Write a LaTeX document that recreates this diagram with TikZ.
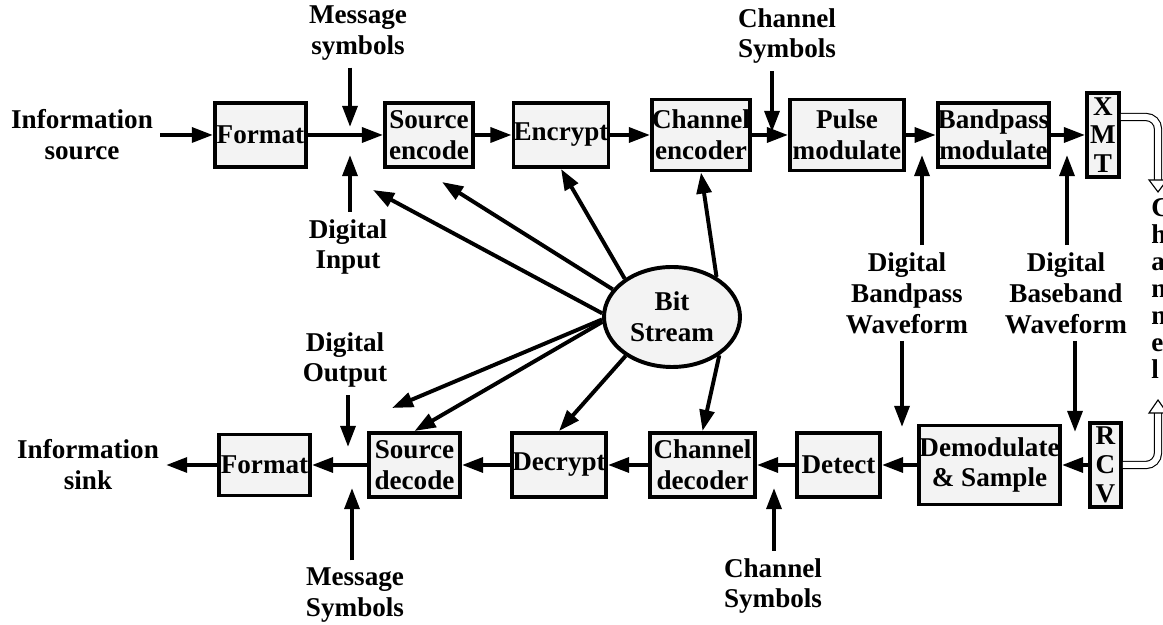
\documentclass[tikz,border=0pt]{standalone}
\usepackage{fontspec}
\setmainfont{Liberation Serif}
\usetikzlibrary{arrows.meta,shapes.geometric}
\definecolor{blkfill}{HTML}{F3F3F3}

\begin{document}
\begin{tikzpicture}[
    font=\fontsize{19.3}{22}\selectfont\bfseries,
    blk/.style={draw, line width=2.8pt, fill=blkfill, inner sep=0pt, align=center},
    tall/.style={blk, font=\fontsize{19.3}{20.5}\selectfont\bfseries},
    lbl/.style={align=center, inner sep=5pt},
    arr/.style={line width=2.8pt, -{Triangle[length=15pt,width=10.5pt]}},
    hollow/.style={double, double distance=0.15cm, line width=0.8pt, rounded corners=0.3cm}
]
    \useasboundingbox (0,0) rectangle (29.075,15.625);

    % Передающая цепочка
    \node[blk, minimum width=2.275cm, minimum height=1.6cm] (fmtA) at (6.51,12.25) {Format};
    \node[blk, minimum width=2.2cm, minimum height=1.6cm] (srcenc) at (10.725,12.25) {Source\\encode};
    \node[blk, minimum width=2.35cm, minimum height=1.6cm] (encr) at (14.025,12.25) {Encrypt};
    \node[blk, minimum width=2.35cm, minimum height=1.775cm] (chenc) at (17.525,12.25) {Channel\\encoder};
    \node[blk, minimum width=2.85cm, minimum height=1.775cm] (pulse) at (21.175,12.25) {Pulse\\modulate};
    \node[blk, minimum width=2.725cm, minimum height=1.6cm] (bpmod) at (24.8375,12.25) {Bandpass\\modulate};
    \node[tall, minimum width=0.8cm, minimum height=2.1cm] (xmt) at (27.575,12.25) {X\\M\\T};

    % Приёмная цепочка
    \node[blk, minimum width=2.275cm, minimum height=1.525cm] (fmtB) at (6.6125,4) {Format};
    \node[blk, minimum width=2.275cm, minimum height=1.6cm] (srcdec) at (10.3625,4) {Source\\decode};
    \node[blk, minimum width=2.35cm, minimum height=1.6cm] (decr) at (13.975,4) {Decrypt};
    \node[blk, minimum width=2.625cm, minimum height=1.6cm] (chdec) at (17.5625,4) {Channel\\decoder};
    \node[blk, minimum width=2.075cm, minimum height=1.6cm] (detect) at (20.9625,4) {Detect};
    \node[blk, minimum width=3.525cm, minimum height=1.975cm] (demod) at (24.7375,4) {Demodulate\\\& Sample};
    \node[tall, minimum width=0.775cm, minimum height=2.1cm] (rcv) at (27.6375,4) {R\\C\\V};

    % Битовый поток в центре
    \node[blk, ellipse, minimum width=3.4cm, minimum height=2.5cm] (bit) at (16.8,7.7) {Bit\\Stream};

    % Подписи
    \node[lbl] (src) at (2.05,12.25) {Information\\source};
    \node[lbl] (sink) at (2.2,4) {Information\\sink};
    \node[lbl] (msgA) at (8.95,14.8) {Message\\symbols};
    \node[lbl] (digin) at (8.7,9.45) {Digital\\Input};
    \node[lbl] (chsymA) at (19.675,14.725) {Channel\\Symbols};
    \node[lbl] (bpwave) at (22.675,8.3) {Digital\\Bandpass\\Waveform};
    \node[lbl] (bbwave) at (26.65,8.3) {Digital\\Baseband\\Waveform};
    \node[lbl] (digout) at (8.625,6.625) {Digital\\Output};
    \node[lbl] (msgB) at (8.875,0.75) {Message\\Symbols};
    \node[lbl] (chsymB) at (19.325,0.975) {Channel\\Symbols};
    \node[inner sep=0pt, anchor=north west, align=left, font=\fontsize{19.3}{19.2}\selectfont\bfseries] (chan) at (28.775,10.675) {C\\h\\a\\n\\n\\e\\l};

    % Точки, куда приходят стрелки
    \coordinate (mA) at (8.75,12.45);
    \coordinate (dA) at (8.75,11.75);
    \coordinate (cA) at (19.3,12.325);
    \coordinate (bA) at (23.05,11.75);
    \coordinate (sA) at (26.675,11.75);
    \coordinate (bB) at (22.55,4.95);
    \coordinate (sB) at (26.875,4.825);
    \coordinate (cB) at (19.35,3.425);
    \coordinate (oB) at (8.7,4.45);
    \coordinate (mB) at (8.8,3.425);
    \coordinate (tipIn) at (9.325,10.875);
    \coordinate (tipEnc) at (11.05,11.075);
    \coordinate (tipOut) at (9.8,5.425);
    \coordinate (txEnd) at (28.95,11.125);
    \coordinate (rxEnd) at (28.95,5.3);

    % Стрелки по цепочкам
    \draw[arr] (src) -- (fmtA);
    \foreach \a/\b in {fmtA/srcenc, srcenc/encr, encr/chenc, chenc/pulse, pulse/bpmod, bpmod/xmt}
        \draw[arr] (\a) -- (\b);
    \foreach \a/\b in {rcv/demod, demod/detect, detect/chdec, chdec/decr, decr/srcdec, srcdec/fmtB, fmtB/sink}
        \draw[arr] (\a) -- (\b);

    % Стрелки от подписей
    \draw[arr] (msgA.south -| mA) -- (mA);
    \draw[arr] (digin.north -| dA) -- (dA);
    \draw[arr] (chsymA.south -| cA) -- (cA);
    \draw[arr] (bpwave.north -| bA) -- (bA);
    \draw[arr] (bbwave.north -| sA) -- (sA);
    \draw[arr] (bpwave.south -| bB) -- (bB);
    \draw[arr] (bbwave.south -| sB) -- (sB);
    \draw[arr] (chsymB.north -| cB) -- (cB);
    \draw[arr] (digout.south -| oB) -- (oB);
    \draw[arr] (msgB.north -| mB) -- (mB);

    % Стрелки от битового потока
    \draw[arr] (bit.177) -- (tipIn);
    \draw[arr] (bit.155) -- (tipEnc);
    \draw[arr] (bit.141) -- (encr.south);
    \draw[arr] (bit.42) -- (chenc.south);
    \draw[arr] (bit.182) -- (tipOut);
    \draw[arr] (bit.184) -- (srcdec.north);
    \draw[arr] (bit.220) -- (decr.north);
    \draw[arr] (bit.321) -- (chdec.north);

    % Полые стрелки в канал и из канала
    \draw[hollow] ([yshift=0.45cm]xmt.east) -| (txEnd);
    \draw[line width=0.8pt, fill=white] ([xshift=-0.225cm]txEnd) -- ([xshift=0.225cm]txEnd) -- ([yshift=-0.3cm]txEnd) -- cycle;
    \draw[hollow] (rcv.east) -| (rxEnd);
    \draw[line width=0.8pt, fill=white] ([xshift=-0.225cm]rxEnd) -- ([xshift=0.225cm]rxEnd) -- ([yshift=0.325cm]rxEnd) -- cycle;
\end{tikzpicture}
\end{document}
